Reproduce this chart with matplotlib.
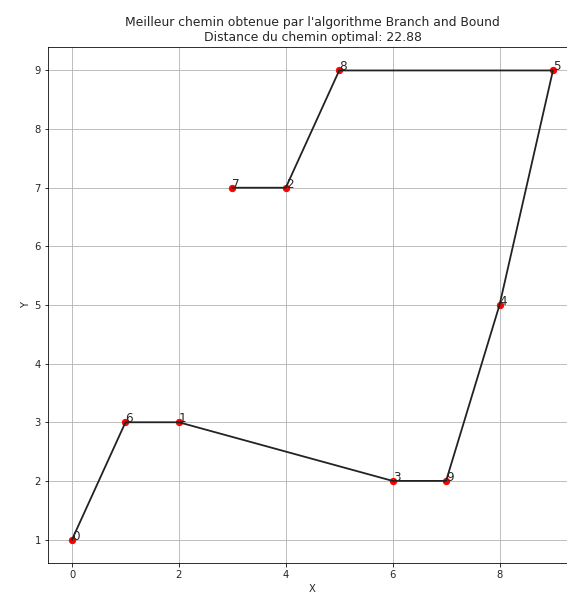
import matplotlib
matplotlib.use('Agg')
import matplotlib.pyplot as plt

# villes (index, x, y)
villes = [0, 1, 2, 3, 4, 5, 6, 7, 8, 9]
xs = [0, 2, 4, 6, 8, 9, 1, 3, 5, 7]
ys = [1, 3, 7, 2, 5, 9, 3, 7, 9, 2]

# meilleur chemin trouve
chemin = [0, 6, 1, 3, 9, 4, 5, 8, 2, 7]
distance = 22.88

plt.rcParams['text.color'] = '#262626'
plt.rcParams['xtick.labelcolor'] = '#262626'
plt.rcParams['ytick.labelcolor'] = '#262626'
plt.rcParams['axes.labelcolor'] = '#262626'

fig = plt.figure(figsize=(567 / 72, 597 / 72), dpi=72)
ax = fig.add_axes([48 / 567, 34 / 597, 529 / 567, 516 / 597])

ax.scatter(xs, ys, c='red', s=40, zorder=2)
for v in villes:
    ax.text(xs[v], ys[v], str(v), fontsize=12, zorder=4)

cx = [xs[v] for v in chemin]
cy = [ys[v] for v in chemin]
ax.plot(cx, cy, '-', color='#222222', linewidth=1.8, zorder=3)

ax.set_xlabel('X')
ax.set_ylabel('Y')
ax.set_title("Meilleur chemin obtenue par l'algorithme Branch and Bound\n"
             "Distance du chemin optimal: " + f"{distance:.2f}", fontsize=12.4)
ax.grid(True)

fig.savefig('out.png', dpi=72)
